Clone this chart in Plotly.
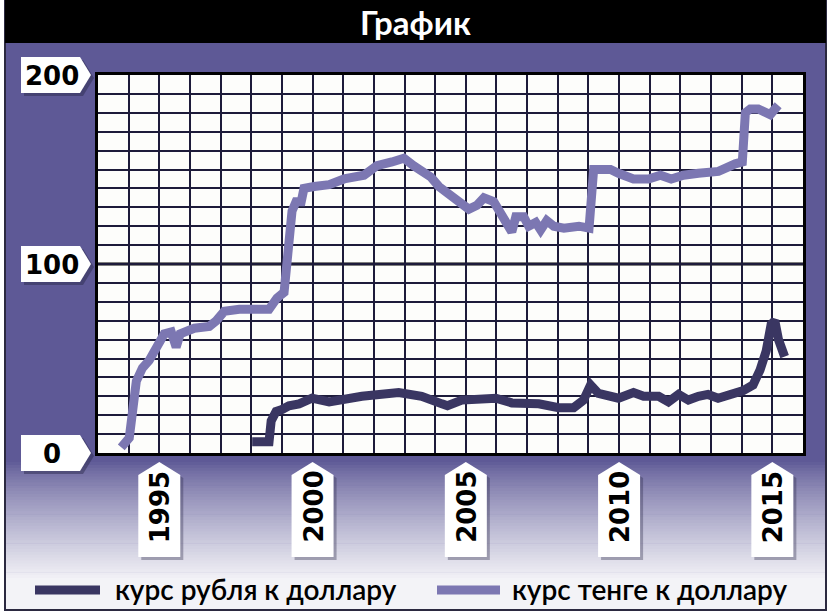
import plotly.graph_objects as go

# ---------------- data ----------------
tenge_years = [1993.76, 1994.02, 1994.25, 1994.45, 1994.67, 1995.0, 1995.16, 1995.39, 1995.55, 1995.68,
               1996.14, 1996.63, 1996.86, 1997.12, 1997.61, 1998.58, 1998.84, 1999.07, 1999.2, 1999.33,
               1999.46, 1999.63, 1999.72, 1999.89, 2000.05, 2000.54, 2001.03, 2001.68, 2001.9, 2002.1,
               2002.59, 2002.98, 2003.3, 2003.63, 2003.86, 2004.12, 2004.45, 2004.84, 2005.1, 2005.36,
               2005.59, 2005.91, 2006.07, 2006.3, 2006.5, 2006.63, 2006.89, 2007.05, 2007.28, 2007.44,
               2007.64, 2007.87, 2008.2, 2008.69, 2009.02, 2009.17, 2009.5, 2009.72, 2009.98, 2010.47,
               2010.96, 2011.35, 2011.7, 2012.1, 2012.59, 2013.24, 2013.79, 2014.02, 2014.12, 2014.28,
               2014.54, 2014.93, 2015.19]
tenge_rate = [3, 8, 38, 45, 49, 58, 63, 64, 56, 63,
              66, 67, 70, 75, 76, 76, 82, 85, 107, 128,
              133, 133, 140, 141, 141, 142, 145, 147, 149, 152,
              154, 156, 152, 149, 146, 141, 137, 131, 129, 131,
              135, 133, 128, 123, 117, 125, 125, 120, 122, 118,
              123, 120, 119, 120, 119, 150, 150, 150, 148, 145,
              145, 147, 145, 147, 148, 149, 153, 154, 180, 182,
              182, 179, 184]

ruble_years = [1998.03, 1998.58, 1998.65, 1998.81, 1999.0, 1999.23, 1999.56, 1999.98, 2000.54, 2001.61,
               2002.81, 2003.56, 2004.22, 2004.4, 2004.87, 2005.98, 2006.5, 2007.38, 2008.03, 2008.52,
               2008.84, 2009.07, 2009.33, 2009.66, 2009.98, 2010.47, 2010.8, 2011.29, 2011.61, 2011.94,
               2012.26, 2012.59, 2012.9, 2013.23, 2013.72, 2014.05, 2014.37, 2014.6, 2014.8, 2014.96,
               2015.08, 2015.2, 2015.4]
ruble_rate = [6, 6, 17, 22, 23, 25, 26, 29, 27, 30,
              32, 30, 26, 25, 28, 29, 26.5, 26, 24, 24,
              28, 36, 31.5, 30, 29, 32, 30, 30, 27, 31,
              28, 30, 31, 29, 31, 33, 36, 44, 54, 68,
              70, 60, 51]

y_tick_vals = [0, 100, 200]
y_tick_text = ["0", "100", "200"]
x_tick_vals = [1995, 2000, 2005, 2010, 2015]
x_tick_text = ["1995", "2000", "2005", "2010", "2015"]

title_text = "График"
ruble_name = "курс рубля к доллару"
tenge_name = "курс тенге к доллару"

# ---------------- style ----------------
Y_RANGE = [0, 200]
X_RANGE = [1993, 2016]
PURPLE = "#5e5996"
RUBLE_C = "#3a3662"
TENGE_C = "#7c77b2"
GRID_C = "#1d1b3a"
TAG_FONT = dict(family="DejaVu Sans", size=26, color="black", weight="bold")

fig = go.Figure()
fig.add_trace(go.Scatter(x=tenge_years, y=tenge_rate, mode="lines", name=tenge_name,
                         line=dict(color=TENGE_C, width=9), showlegend=False))
fig.add_trace(go.Scatter(x=ruble_years, y=ruble_rate, mode="lines", name=ruble_name,
                         line=dict(color=RUBLE_C, width=9), showlegend=False))

shapes = []
annotations = []

def px_rect(x0, x1, y0, y1, fill, line=None):
    d = dict(type="rect", xref="paper", yref="paper", xsizemode="pixel", ysizemode="pixel",
             xanchor=0, yanchor=0, x0=x0, x1=x1, y0=y0, y1=y1, fillcolor=fill, layer="below",
             line=dict(width=0) if line is None else line)
    shapes.append(d)

L, B = 98, 453
def ox(px):
    return px - L
def oy(py):
    return B - py

px_rect(ox(5), ox(826), oy(610), oy(0), PURPLE, dict(color="#2b2940", width=2))
g_top, g_bot = 462, 578
n = 40
c0 = (0x5e, 0x59, 0x96)
c1 = (0xf1, 0xf1, 0xf6)
for i in range(n):
    a = g_top + (g_bot - g_top) * i / n
    b = g_top + (g_bot - g_top) * (i + 1) / n
    t = (i + 0.5) / n
    t = t ** 0.8
    col = "rgb(%d,%d,%d)" % tuple(round(c0[k] + (c1[k] - c0[k]) * t) for k in range(3))
    px_rect(ox(6), ox(825), oy(b + 0.6), oy(a), col)
px_rect(ox(6), ox(825), oy(609), oy(g_bot), "#f3f3f7")
px_rect(ox(5), ox(826), oy(43), oy(0), "black")
shapes.append(dict(type="rect", xref="paper", yref="paper", x0=0, x1=1, y0=0, y1=1,
                   fillcolor="#fdfdfb", line=dict(width=0), layer="below"))
shapes.append(dict(type="line", xref="paper", yref="y", x0=0, x1=1, y0=100, y1=100,
                   line=dict(color="black", width=3), layer="below"))

# y value tags (pentagons pointing right); paper refs so they are not clipped
for v, t in zip(y_tick_vals, y_tick_text):
    frac = (v - Y_RANGE[0]) / (Y_RANGE[1] - Y_RANGE[0])
    for dx, dy, col in [(3, -3, "rgba(40,38,70,0.45)"), (0, 0, "white")]:
        path = "M %d,%d L %d,%d L %d,%d L %d,%d L %d,%d Z" % (
            -77 + dx, -18 + dy, -18 + dx, -18 + dy, -7 + dx, 0 + dy, -18 + dx, 18 + dy, -77 + dx, 18 + dy)
        shapes.append(dict(type="path", xref="paper", yref="paper", xsizemode="pixel", ysizemode="pixel",
                           xanchor=0, yanchor=frac, path=path, fillcolor=col, line=dict(width=0),
                           layer="below"))
    annotations.append(dict(x=0, y=v, xref="paper", yref="y", text=t, showarrow=False,
                            xanchor="center", yanchor="middle", xshift=-46, yshift=-1,
                            font=TAG_FONT))

for v, t in zip(x_tick_vals, x_tick_text):
    for dx, dy, col in [(3, -3, "rgba(40,38,70,0.35)"), (0, 0, "white")]:
        path = "M %d,%d L %d,%d L %d,%d L %d,%d L %d,%d Z" % (
            -21 + dx, -104 + dy, 21 + dx, -104 + dy, 21 + dx, -22 + dy, 0 + dx, -9 + dy, -21 + dx, -22 + dy)
        shapes.append(dict(type="path", xref="x", yref="paper", xsizemode="pixel", ysizemode="pixel",
                           xanchor=v, yanchor=0, path=path, fillcolor=col, line=dict(width=0),
                           layer="below"))
    annotations.append(dict(x=v, y=0, xref="x", yref="paper", text=t, showarrow=False,
                            textangle=-90, xanchor="center", yanchor="middle", yshift=-54, xshift=1,
                            font=TAG_FONT))

annotations.append(dict(x=(415 - L) / 705, y=(B - 22) / 378, xref="paper", yref="paper",
                        text=title_text, showarrow=False, xanchor="center", yanchor="middle",
                        font=dict(family="Lato", size=33, color="white", weight="bold")))

for (x0, x1, tx, col, name) in [(35, 100, 113, RUBLE_C, ruble_name), (437, 500, 510, TENGE_C, tenge_name)]:
    shapes.append(dict(type="line", xref="paper", yref="paper", xsizemode="pixel", ysizemode="pixel",
                       xanchor=0, yanchor=0, x0=ox(x0), x1=ox(x1), y0=oy(590), y1=oy(590),
                       line=dict(color=col, width=9), layer="above"))
    annotations.append(dict(x=(tx - L) / 705, y=(B - 589) / 378, xref="paper", yref="paper",
                            text=name, showarrow=False, xanchor="left", yanchor="middle",
                            font=dict(family="Lato", size=28, color="black", weight=600)))

fig.update_layout(
    width=830, height=612,
    margin=dict(l=98, r=27, t=75, b=159),
    paper_bgcolor="white",
    plot_bgcolor="#fdfdfb",
    shapes=shapes,
    annotations=annotations,
    showlegend=False,
    xaxis=dict(range=X_RANGE, dtick=1, tick0=1993, showgrid=True, gridcolor=GRID_C, gridwidth=2,
               showticklabels=False, ticks="", zeroline=False, showline=True, linecolor="black",
               linewidth=3, mirror=True, fixedrange=True),
    yaxis=dict(range=Y_RANGE, dtick=10, tick0=0, showgrid=True, gridcolor=GRID_C, gridwidth=2,
               showticklabels=False, ticks="", zeroline=False, showline=True, linecolor="black",
               linewidth=3, mirror=True, fixedrange=True),
)

fig.write_html("out.html", config={"displayModeBar": False},
               post_script="document.body.style.margin='0';document.body.style.padding='0';")
